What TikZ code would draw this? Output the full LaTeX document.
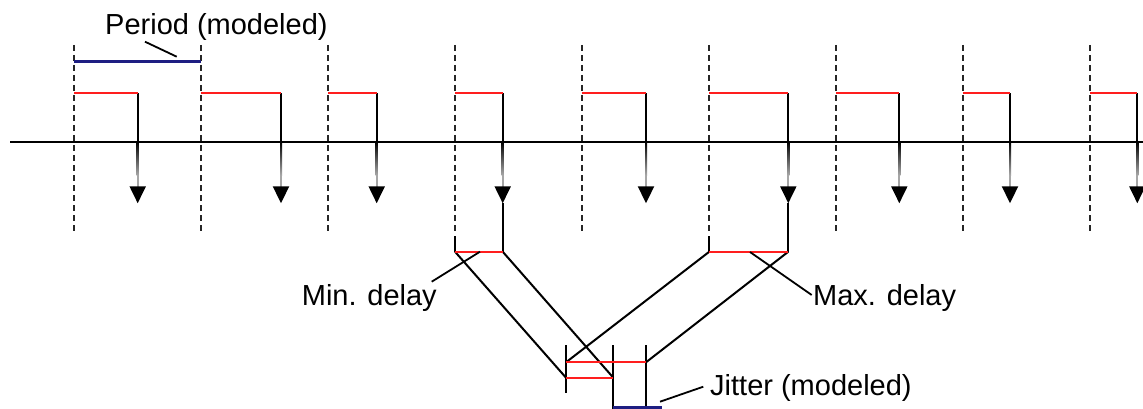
\documentclass[tikz,border=0pt]{standalone}
\usepackage{fontspec}
\setmainfont{Liberation Sans}
\usetikzlibrary{arrows.meta}
\definecolor{navyline}{RGB}{30,30,130}
\definecolor{redline}{RGB}{255,30,30}
\begin{document}
\begin{tikzpicture}[x=1pt,y=-1pt,
  gridline/.style={draw=black!85, line width=2pt, dash pattern=on 6pt off 4pt},
  delayline/.style={draw=redline, line width=2.2pt},
  spanline/.style={draw=navyline, line width=3.2pt},
  wire/.style={draw=black, line width=2pt},
  fadeshaft/.style={draw=gray!70, line width=2pt, -{Triangle[width=16pt,length=17pt,black]}},
  lbl/.style={font=\fontsize{29}{34}\selectfont, inner sep=0pt, anchor=base west},
  leader/.style={draw=black, line width=1.8pt}]
\useasboundingbox (0,0) rectangle (1143,409);
% time axis
\coordinate (axL) at (10,141.7);
\coordinate (axR) at (1143,141.7);
\draw[wire] (axL) -- (axR);
% periods, delays, arrows
\foreach \i/\dx/\ax in {1/74.3/137.7, 2/201/281, 3/328.3/376.7, 4/455/502.7, 5/581.7/646, 6/709.3/788.3, 7/836/899.3, 8/962.7/1010, 9/1090/1137.3}{
  \coordinate (gt\i) at (\dx,45);
  \coordinate (gb\i) at (\dx,233);
  \coordinate (d\i) at (\dx,93.3);
  \coordinate (r\i) at (\ax,93.3);
  \coordinate (s\i) at (\ax,141.7);
  \coordinate (f\i) at (\ax,175);
  \coordinate (t\i) at (\ax,203.3);
  \draw[gridline] (gt\i) -- (gb\i);
  \draw[wire] (r\i) -- (s\i);
  \draw[delayline] (d\i) -- (r\i);
  \draw[fadeshaft] (f\i) -- (t\i);
  \shade[top color=black, bottom color=gray!70] (\ax-1,141.7) rectangle (\ax+1,175);
}
% period bar
\draw[spanline] (74.3,61.7) coordinate (pa) -- (201,61.7) coordinate (pb);
\node[lbl] (period) at (105,35) {Period (modeled)};
\coordinate (pl1) at (145,41.7);
\coordinate (pl2) at (176.7,56.7);
\draw[leader] (pl1) -- (pl2);
% min delay bracket
\coordinate (mn1t) at (455,236);
\coordinate (mn1) at (455,251.7);
\coordinate (mn2) at (502.7,251.7);
\draw[wire] (mn1t) -- (mn1);
\draw[wire] (t4) -- (mn2);
% max delay bracket
\coordinate (mx1t) at (709.3,236);
\coordinate (mx1) at (709.3,251.7);
\coordinate (mx2) at (788.3,251.7);
\draw[wire] (mx1t) -- (mx1);
\draw[wire] (t6) -- (mx2);
% jitter bracket
\coordinate (j1t) at (566,345);
\coordinate (j1b) at (566,393.3);
\coordinate (j2t) at (613.3,345);
\coordinate (j2b) at (613.3,409);
\coordinate (j3t) at (646,345);
\coordinate (j3b) at (646,409);
\draw[wire] (j1t) -- (j1b);
\draw[wire] (j2t) -- (j2b);
\draw[wire] (j3t) -- (j3b);
\coordinate (jmaxL) at (566,362.3);
\coordinate (jmaxR) at (646,362.3);
\coordinate (jminL) at (566,377.7);
\coordinate (jminR) at (613.3,377.7);
% mapping diagonals
\draw[wire] (mn1) -- (jminL);
\draw[wire] (mn2) -- (jminR);
\draw[wire] (mx1) -- (jmaxL);
\draw[wire] (mx2) -- (jmaxR);
% red delay marks on brackets
\draw[delayline] (mn1) -- (mn2);
\draw[delayline] (mx1) -- (mx2);
\draw[delayline] (jmaxL) -- (jmaxR);
\draw[delayline] (jminL) -- (jminR);
\draw[spanline] (613.3,407.7) coordinate (ja) -- (661.7,407.7) coordinate (jb);
% labels
\node[lbl] (minlbl) at (301.7,305) {Min. delay};
\coordinate (ml1) at (480,251.7);
\coordinate (ml2) at (431.7,281.7);
\draw[leader] (ml1) -- (ml2);
\node[lbl] (maxlbl) at (813,305) {Max. delay};
\coordinate (xl1) at (750,252);
\coordinate (xl2) at (811.7,295);
\draw[leader] (xl1) -- (xl2);
\node[lbl] (jitlbl) at (710,395) {Jitter (modeled)};
\coordinate (jl1) at (660,401.7);
\coordinate (jl2) at (703.3,386.7);
\draw[leader] (jl1) -- (jl2);
\end{tikzpicture}
\end{document}
